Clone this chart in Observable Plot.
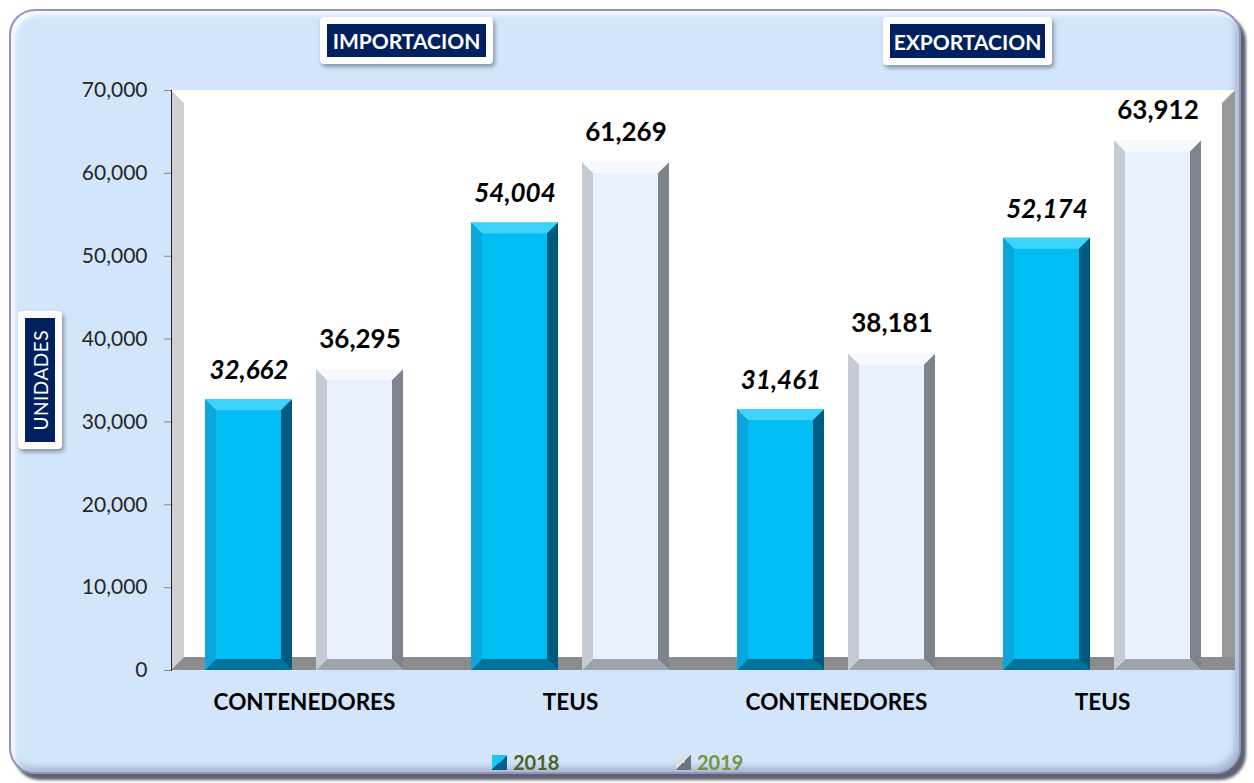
<!DOCTYPE html>
<html><head><meta charset="utf-8">
<script src="https://cdn.jsdelivr.net/npm/d3@7"></script>
<script src="https://cdn.jsdelivr.net/npm/@observablehq/plot@0.6"></script>
<style>
body{margin:0;background:#fff;font-family:Lato,"DejaVu Sans",sans-serif;}
#wrap{position:relative;width:1254px;height:783px;overflow:hidden;background:#fff;}
#panel{position:absolute;left:9px;top:9px;width:1232px;height:765px;box-sizing:border-box;border:2px solid #9b8fc6;border-radius:26px;background:#d2e5fb;
 box-shadow:5px 6px 3px #5d626d, inset 4px 4px 5px rgba(255,255,255,.9), inset -4px -5px 6px rgba(90,100,120,.35);}
#chart{position:absolute;left:0;top:0;}
.hdr{position:absolute;background:#fff;border-radius:4px;box-shadow:2px 3px 4px rgba(0,0,0,.35);}
.hdr .in{position:absolute;left:7px;top:7px;right:7px;bottom:7px;background:#002060;color:#fff;display:flex;align-items:center;justify-content:center;}
.legend{position:absolute;top:750px;display:flex;align-items:center;font-weight:bold;font-size:20px;}
.sw{width:15px;height:15px;margin-right:6px;}
</style></head>
<body>
<div id="wrap">
  <div id="panel"></div>
  <div id="chart"></div>
  <div class="hdr" style="left:320px;top:17px;width:173px;height:47px;"><div class="in" style="font-weight:bold;font-size:21px;" id="h1"></div></div>
  <div class="hdr" style="left:883px;top:17px;width:169px;height:48px;"><div class="in" style="font-weight:bold;font-size:21px;" id="h2"></div></div>
  <div class="hdr" style="left:18px;top:311px;width:44px;height:138px;"><div class="in" style="font-size:19px;"><span id="ylab" style="writing-mode:vertical-rl;transform:rotate(180deg);letter-spacing:0.5px;"></span></div></div>
  <div class="legend" style="left:492px;color:#4f6228;"><div class="sw" style="background:linear-gradient(to bottom right,#1cc4f6 50%,#00628c 50%);"></div><span id="l1"></span></div>
  <div class="legend" style="left:676px;color:#77933c;"><div class="sw" style="background:linear-gradient(to bottom right,#dde2e8 50%,#6f757d 50%);"></div><span id="l2"></span></div>
</div>
<script>
// ---- data ----
const sections = ["IMPORTACION", "IMPORTACION", "EXPORTACION", "EXPORTACION"];
const categories = ["CONTENEDORES", "TEUS", "CONTENEDORES", "TEUS"];
const years = ["2018", "2019"];
const values2018 = [32662, 54004, 31461, 52174];
const values2019 = [36295, 61269, 38181, 63912];
const yTicks = [0, 10000, 20000, 30000, 40000, 50000, 60000, 70000];
const sectionTitles = ["IMPORTACION", "EXPORTACION"];
const yTitle = "UNIDADES";

// ---- table ----
const keys = categories.map((c, i) => sections[i] + "|" + c);
const rows = keys.flatMap((k, i) => [
  {key: k, year: years[0], value: values2018[i]},
  {key: k, year: years[1], value: values2019[i]}
]);

const W = 1254, H = 783, mL = 171, mR = 19, mT = 90, mB = 113;
const faceColors = ["#00bdf4", "#e8f2fc"];
const fmt = d3.format(",");

const chart = Plot.plot({
  width: W, height: H,
  marginLeft: mL, marginRight: mR, marginTop: mT, marginBottom: mB,
  style: {background: "transparent", fontFamily: "Lato, sans-serif", fontSize: "21px", color: "#222", overflow: "visible"},
  fx: {domain: keys, padding: 0, axis: null, label: null},
  x: {domain: years, paddingInner: 0.216, paddingOuter: 0.306, axis: null},
  y: {domain: [0, 70000], ticks: yTicks, tickFormat: fmt, label: null, tickSize: 7, tickPadding: 17, line: true},
  color: {domain: years, range: faceColors},
  marks: [
    Plot.barY(rows, {fx: "key", x: "year", y: "value", fill: "year"}),
    Plot.text(rows, {filter: d => d.year === years[0], fx: "key", x: "year", y: "value", text: d => fmt(d.value),
      dy: -29, fontSize: 26, fontWeight: "bold", fontStyle: "italic", fill: "#000"}),
    Plot.text(rows, {filter: d => d.year === years[1], fx: "key", x: "year", y: "value", text: d => fmt(d.value),
      dy: -30, fontSize: 26, fontWeight: "bold", fill: "#000"}),
    Plot.text(keys, {fx: d => d, text: d => d.split("|")[1], frameAnchor: "bottom", dy: 39, fontSize: 22.5, fontWeight: "bold", fill: "#000"})
  ]
});
document.getElementById("chart").appendChild(chart);

// ---- decoration: 3D walls & floor derived from scales ----
const ys = chart.scale("y");
const T = ys.apply(70000), B = ys.apply(0), L = mL, R = W - mR, dp = 13;
const ns = "http://www.w3.org/2000/svg";
const deco = document.createElementNS(ns, "g");
function poly(parent, pts, fill) {
  const p = document.createElementNS(ns, "polygon");
  p.setAttribute("points", pts.map(q => q.join(",")).join(" "));
  p.setAttribute("fill", fill);
  parent.appendChild(p);
  return p;
}
const bg = document.createElementNS(ns, "rect");
bg.setAttribute("x", L); bg.setAttribute("y", T); bg.setAttribute("width", R - L); bg.setAttribute("height", B - T); bg.setAttribute("fill", "#fff");
deco.appendChild(bg);
poly(deco, [[L, T], [L + dp, T + dp], [L + dp, B - dp], [L, B]], "#d0d0d0");
poly(deco, [[L, B], [L + dp, B - dp], [R, B - dp], [R, B]], "#8c8c8c");
poly(deco, [[R - dp, T + dp], [R, T], [R, B - dp], [R - dp, B - dp]], "#999999");
const firstG = chart.querySelector(":scope > g");
chart.insertBefore(deco, firstG);

// axis styling
d3.select(chart).selectAll('g[aria-label^="y-axis"] line, g[aria-label^="y-axis"] path, g[aria-label^="y-axis"] .tick line, g[aria-label^="y-axis"] .domain')
  .attr("stroke", "#8a8a8a");
d3.select(chart).selectAll('g[aria-label^="y-axis"]').attr("font-size", 21);
d3.select(chart).selectAll('g[aria-label^="y-axis"] text').attr("fill", "#262626").attr("font-size", 21);

// ---- bevels on bars ----
const bevel = {
  "#00bdf4": {top: "#3fd2fa", left: "#0aa6dc", right: "#005b80", bottom: "#00739c"},
  "#e8f2fc": {top: "#f6faff", left: "#c4cbd4", right: "#7e848c", bottom: "#9ea4ac"}
};
d3.select(chart).selectAll('g[aria-label="bar"] rect').each(function() {
  const r = this;
  const x = +r.getAttribute("x"), y = +r.getAttribute("y"), w = +r.getAttribute("width"), h = +r.getAttribute("height");
  const c = bevel[(r.getAttribute("fill") || "").toLowerCase()];
  if (!c) return;
  const b = Math.min(11, w / 2, h / 2);
  const g = document.createElementNS(ns, "g");
  if (r.getAttribute("transform")) g.setAttribute("transform", r.getAttribute("transform"));
  poly(g, [[x, y], [x + w, y], [x + w - b, y + b], [x + b, y + b]], c.top);
  poly(g, [[x, y + h], [x + w, y + h], [x + w - b, y + h - b], [x + b, y + h - b]], c.bottom);
  poly(g, [[x, y], [x + b, y + b], [x + b, y + h - b], [x, y + h]], c.left);
  poly(g, [[x + w, y], [x + w - b, y + b], [x + w - b, y + h - b], [x + w, y + h]], c.right);
  r.parentNode.insertBefore(g, r.nextSibling);
});

// ---- html text ----
document.getElementById("h1").textContent = sectionTitles[0];
document.getElementById("h2").textContent = sectionTitles[1];
document.getElementById("ylab").textContent = yTitle;
document.getElementById("l1").textContent = years[0];
document.getElementById("l2").textContent = years[1];
</script>
</body></html>
